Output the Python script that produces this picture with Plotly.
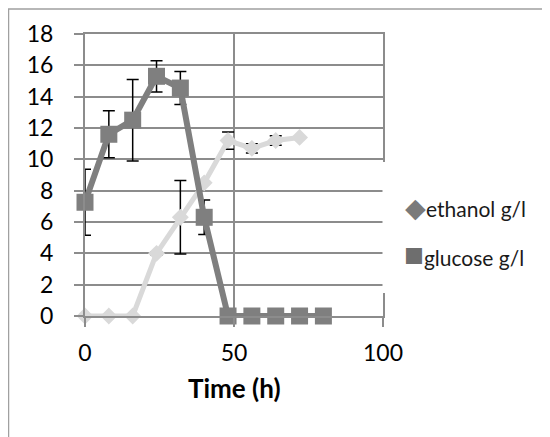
import plotly.graph_objects as go

# ---- data ----
time_glucose = [0, 8, 16, 24, 32, 40, 48, 56, 64, 72, 80]
glucose = [7.26, 11.6, 12.5, 15.3, 14.55, 6.3, 0, 0, 0, 0, 0]
glucose_err = [2.1, 1.5, 2.6, 1.0, 1.05, 1.1, 0, 0, 0, 0, 0]

time_ethanol = [0, 8, 16, 24, 32, 40, 48, 56, 64, 72]
ethanol = [0, 0, 0, 4.0, 6.3, 8.5, 11.2, 10.7, 11.2, 11.4]
ethanol_err = [0, 0, 0, 0.1, 2.35, 0, 0.55, 0.3, 0.3, 0]

series_names = ["ethanol g/l", "glucose g/l"]
x_title = "Time (h)"
x_ticks = [0, 50, 100]
y_ticks = [0, 2, 4, 6, 8, 10, 12, 14, 16, 18]

FONT = "Lato, 'Open Sans', sans-serif"
GRID = "#8c8c8c"
ETH_COLOR = "#d9d9d9"
GLU_COLOR = "#7f7f7f"

fig = go.Figure()

fig.add_trace(go.Scatter(
    x=time_ethanol, y=ethanol, name=series_names[0], mode="lines+markers",
    line=dict(color=ETH_COLOR, width=5),
    marker=dict(symbol="diamond", size=13, color=ETH_COLOR),
    error_y=dict(type="data", array=ethanol_err, visible=True,
                 color="black", thickness=1.5, width=6),
    cliponaxis=False, showlegend=False,
))
fig.add_trace(go.Scatter(
    x=time_glucose, y=glucose, name=series_names[1], mode="lines+markers",
    line=dict(color=GLU_COLOR, width=6),
    marker=dict(symbol="square", size=17, color=GLU_COLOR),
    error_y=dict(type="data", array=glucose_err, visible=True,
                 color="black", thickness=1.5, width=6),
    cliponaxis=False, showlegend=False,
))

# plot-area geometry in screen pixels (page body has an 8px margin)
OFF = 8
L, R, T, B = 85, 383, 34, 316
W, H = 550, 437
pw, ph = R - L, B - T
def px(xp):
    return (xp - L) / pw
def py(yp):
    return (B - yp) / ph

axis_common = dict(
    showgrid=True, gridcolor=GRID, gridwidth=2,
    showline=True, linecolor=GRID, linewidth=2, mirror=True,
    ticks="outside", ticklen=9, tickcolor=GRID, tickwidth=2,
    zeroline=False, tickfont=dict(family=FONT, size=23, color="black"),
)

fig.update_layout(
    width=W, height=H,
    margin=dict(l=L - OFF, r=W - (R - OFF), t=T - OFF, b=H - (B - OFF), pad=0),
    paper_bgcolor="white", plot_bgcolor="white",
    xaxis=dict(range=[0, 100], tickvals=x_ticks, ticklabelstandoff=6, **axis_common),
    yaxis=dict(range=[0, 18], tickvals=y_ticks, ticklabelstandoff=16, **axis_common),
    showlegend=False,
    shapes=[
        # outer chart border (cut at right/bottom like the reference)
        dict(type="rect", xref="paper", yref="paper",
             x0=px(8.5), x1=px(600), y0=py(480), y1=py(9),
             line=dict(color="#a0a0a0", width=1.5), fillcolor="rgba(0,0,0,0)", layer="below"),
        # white legend panel overlapping the plot's right edge
        dict(type="rect", xref="paper", yref="paper",
             x0=px(382.5), x1=px(560), y0=py(293), y1=py(162),
             line=dict(width=0), fillcolor="white", layer="above"),
    ],
    annotations=[
        dict(text="<b>" + x_title + "</b>", xref="x", x=50, yref="paper", y=py(388),
             xanchor="center", yanchor="middle", showarrow=False,
             font=dict(family=FONT, size=26, color="black")),
        dict(text='<span style="color:#7a7a7a;font-size:27px">◆</span>' + series_names[0],
             xref="paper", x=px(403), yref="paper", y=py(207),
             xanchor="left", yanchor="middle", showarrow=False,
             font=dict(family=FONT, size=21, color="#1a1a1a")),
        dict(text='<span style="color:#6e6e6e;font-size:33px">■</span>' + series_names[1],
             xref="paper", x=px(402), yref="paper", y=py(253),
             xanchor="left", yanchor="middle", showarrow=False,
             font=dict(family=FONT, size=21, color="#1a1a1a")),
    ],
)

fig.write_html("out.html")
